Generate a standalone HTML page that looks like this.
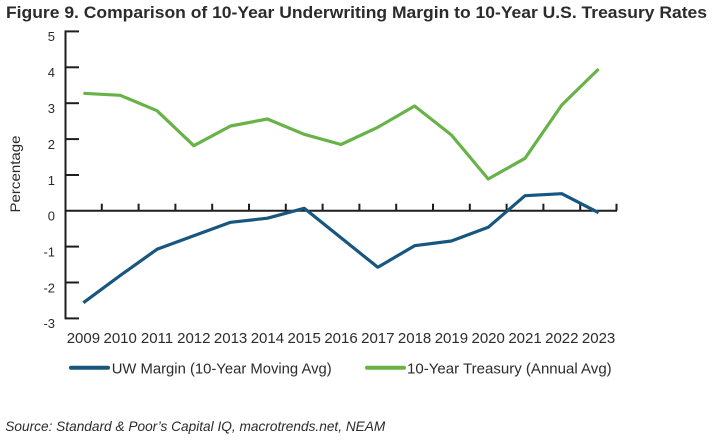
<!DOCTYPE html>
<html>
<head>
<meta charset="utf-8">
<style>
  html, body { margin: 0; padding: 0; background: #ffffff; }
  body { width: 715px; height: 440px; overflow: hidden; }
  svg { display: block; }
  text { font-family: "Liberation Sans", Arial, sans-serif; fill: #2b2b2b; }
</style>
</head>
<body>
<svg width="715" height="440" viewBox="0 0 715 440" xmlns="http://www.w3.org/2000/svg">
  <rect x="0" y="0" width="715" height="440" fill="#ffffff"/>

  <!-- Title -->
  <text x="6" y="18" font-size="16.5" font-weight="bold" fill="#222" textLength="701" lengthAdjust="spacingAndGlyphs">Figure 9. Comparison of 10-Year Underwriting Margin to 10-Year U.S. Treasury Rates</text>

  <!-- Y axis -->
  <line x1="65.5" y1="30.5" x2="65.5" y2="319.3" stroke="#1e1e1e" stroke-width="2"/>
  <g stroke="#1e1e1e" stroke-width="2">
    <line x1="65" y1="31.4" x2="79" y2="31.4"/>
    <line x1="65" y1="67.3" x2="79" y2="67.3"/>
    <line x1="65" y1="103.2" x2="79" y2="103.2"/>
    <line x1="65" y1="139.1" x2="79" y2="139.1"/>
    <line x1="65" y1="175.0" x2="79" y2="175.0"/>
    <line x1="65" y1="246.6" x2="79" y2="246.6"/>
    <line x1="65" y1="282.5" x2="79" y2="282.5"/>
    <line x1="65" y1="318.4" x2="79" y2="318.4"/>
  </g>

  <!-- Zero line with ticks -->
  <line x1="65" y1="210.7" x2="617" y2="210.7" stroke="#1e1e1e" stroke-width="2"/>
  <g stroke="#1e1e1e" stroke-width="2">
    <line x1="101.8" y1="203.7" x2="101.8" y2="210.7"/>
    <line x1="138.6" y1="203.7" x2="138.6" y2="210.7"/>
    <line x1="175.4" y1="203.7" x2="175.4" y2="210.7"/>
    <line x1="212.2" y1="203.7" x2="212.2" y2="210.7"/>
    <line x1="249.0" y1="203.7" x2="249.0" y2="210.7"/>
    <line x1="285.8" y1="203.7" x2="285.8" y2="210.7"/>
    <line x1="322.6" y1="203.7" x2="322.6" y2="210.7"/>
    <line x1="359.4" y1="203.7" x2="359.4" y2="210.7"/>
    <line x1="396.2" y1="203.7" x2="396.2" y2="210.7"/>
    <line x1="433.0" y1="203.7" x2="433.0" y2="210.7"/>
    <line x1="469.8" y1="203.7" x2="469.8" y2="210.7"/>
    <line x1="506.6" y1="203.7" x2="506.6" y2="210.7"/>
    <line x1="543.4" y1="203.7" x2="543.4" y2="210.7"/>
    <line x1="580.2" y1="203.7" x2="580.2" y2="210.7"/>
    <line x1="616.5" y1="203.7" x2="616.5" y2="210.7"/>
  </g>

  <!-- Y labels -->
  <g font-size="13" text-anchor="end">
    <text x="55" y="41">5</text>
    <text x="55" y="77">4</text>
    <text x="55" y="113">3</text>
    <text x="55" y="149">2</text>
    <text x="55" y="185">1</text>
    <text x="55" y="220.5">0</text>
    <text x="55" y="256.5">-1</text>
    <text x="55" y="292.5">-2</text>
    <text x="55" y="328">-3</text>
  </g>

  <!-- Y axis title -->
  <text x="0" y="0" font-size="14" text-anchor="middle" transform="translate(20,174) rotate(-90)" textLength="77" lengthAdjust="spacingAndGlyphs">Percentage</text>

  <!-- X labels -->
  <g font-size="15" text-anchor="middle">
    <text x="83.4" y="343">2009</text>
    <text x="120.2" y="343">2010</text>
    <text x="157.0" y="343">2011</text>
    <text x="193.8" y="343">2012</text>
    <text x="230.6" y="343">2013</text>
    <text x="267.4" y="343">2014</text>
    <text x="304.2" y="343">2015</text>
    <text x="341.0" y="343">2016</text>
    <text x="377.8" y="343">2017</text>
    <text x="414.6" y="343">2018</text>
    <text x="451.4" y="343">2019</text>
    <text x="488.2" y="343">2020</text>
    <text x="525.0" y="343">2021</text>
    <text x="561.8" y="343">2022</text>
    <text x="598.6" y="343">2023</text>
  </g>

  <!-- Treasury series (green) -->
  <polyline fill="none" stroke="#68b347" stroke-width="3.2" stroke-linejoin="round" stroke-linecap="butt"
    points="83.4,93.3 120.2,95.3 157.0,110.7 193.8,145.7 230.6,126 267.4,119 304.2,134.3 341.0,144.5 377.8,127.3 414.6,106 451.4,135 488.2,179 525.0,158.3 561.8,105 598.6,69"/>

  <!-- UW Margin series (blue) -->
  <polyline fill="none" stroke="#17567f" stroke-width="3.2" stroke-linejoin="round" stroke-linecap="butt"
    points="83.4,302.7 120.2,275.5 157.0,249.3 193.8,235.8 230.6,222.3 267.4,218.2 304.2,208.3 341.0,237.8 377.8,267.3 414.6,245.7 451.4,241 488.2,227.3 525.0,195.7 561.8,193.7 598.6,212.7"/>

  <!-- Legend -->
  <line x1="71" y1="367.7" x2="108" y2="367.7" stroke="#17567f" stroke-width="4" stroke-linecap="round"/>
  <text x="111.7" y="373.3" font-size="15" textLength="220" lengthAdjust="spacingAndGlyphs">UW Margin (10-Year Moving Avg)</text>
  <line x1="367" y1="367.7" x2="404" y2="367.7" stroke="#68b347" stroke-width="4" stroke-linecap="round"/>
  <text x="407" y="373.3" font-size="15" textLength="204.7" lengthAdjust="spacingAndGlyphs">10-Year Treasury (Annual Avg)</text>

  <!-- Source -->
  <text x="5.3" y="431" font-size="14" font-style="italic" fill="#444" textLength="380" lengthAdjust="spacingAndGlyphs">Source: Standard &amp; Poor’s Capital IQ, macrotrends.net, NEAM</text>
</svg>
</body>
</html>
